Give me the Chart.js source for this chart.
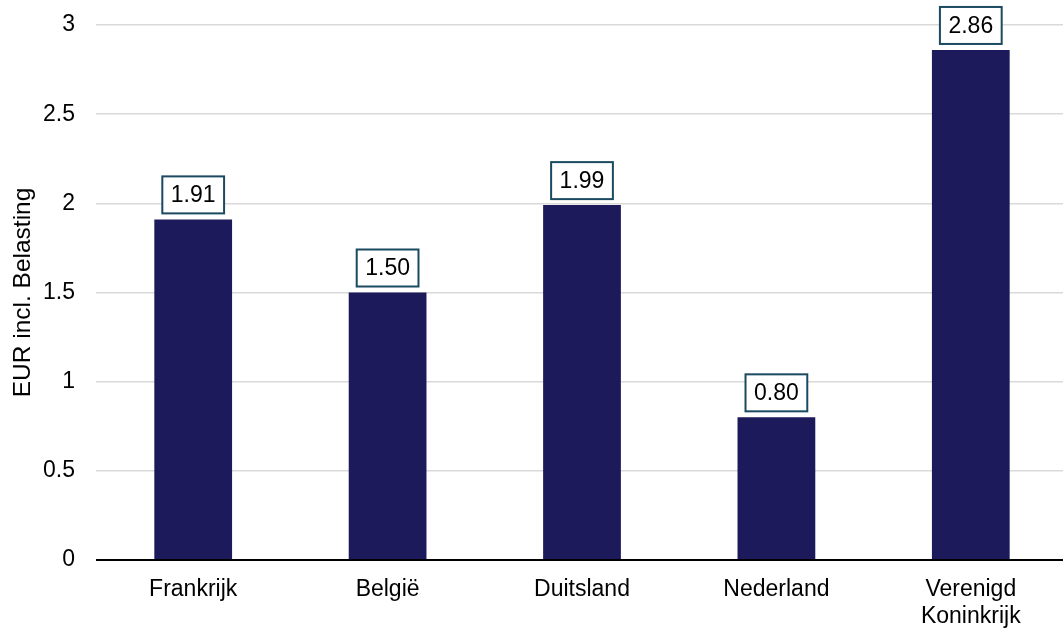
<!DOCTYPE html>
<html>
<head>
<meta charset="utf-8">
<script src="https://cdn.jsdelivr.net/npm/chart.js@4.4.1/dist/chart.umd.min.js"></script>
<style>
html,body{margin:0;padding:0;background:#fff;overflow:hidden;width:1063px;height:630px;}
#wrap{position:absolute;left:0;top:0;width:1068px;height:630px;}
</style>
</head>
<body>
<div id="wrap"><canvas id="c" width="1068" height="630"></canvas></div>
<script>
const categories = ["Frankrijk", "België", "Duitsland", "Nederland", ["Verenigd", "Koninkrijk"]];
const values = [1.91, 1.50, 1.99, 0.80, 2.86];
const yTicks = [0, 0.5, 1, 1.5, 2, 2.5, 3];
const yTitle = "EUR incl. Belasting";

const FONT = "'Liberation Sans', Arial, sans-serif";

const labelBoxPlugin = {
  id: 'labelBoxes',
  afterDatasetsDraw(chart) {
    const ctx = chart.ctx;
    const meta = chart.getDatasetMeta(0);
    ctx.save();
    ctx.font = "23px " + FONT;
    meta.data.forEach((bar, i) => {
      const txt = values[i].toFixed(2);
      const tw = ctx.measureText(txt).width;
      const w = tw + 17, h = 37;
      const x = bar.x - w / 2;
      const y = bar.y - 6 - h;
      ctx.fillStyle = '#ffffff';
      ctx.fillRect(x, y, w, h);
      ctx.lineWidth = 2;
      ctx.strokeStyle = '#1a4a60';
      ctx.strokeRect(x, y, w, h);
      ctx.fillStyle = '#000000';
      ctx.textAlign = 'center';
      ctx.textBaseline = 'middle';
      ctx.fillText(txt, bar.x, y + h / 2 + 1);
    });
    ctx.restore();
  }
};

new Chart(document.getElementById('c'), {
  type: 'bar',
  data: {
    labels: categories,
    datasets: [{
      data: values,
      backgroundColor: '#1c1a5a',
      borderWidth: 0,
      barPercentage: 0.4,
      categoryPercentage: 1.0
    }]
  },
  options: {
    responsive: false,
    animation: false,
    devicePixelRatio: 1,
    layout: { padding: { top: 25, right: 0, left: 0, bottom: 0 } },
    plugins: { legend: { display: false }, tooltip: { enabled: false } },
    scales: {
      x: {
        offset: true,
        grid: { display: false, drawTicks: false },
        border: { display: false },
        ticks: {
          color: '#000',
          font: { family: FONT, size: 23, lineHeight: 1.17 },
          padding: 16,
          maxRotation: 0,
          autoSkip: false
        },
        afterFit(scale) { scale.height = 70; scale.paddingLeft = 0; scale.paddingRight = 0; }
      },
      y: {
        min: 0, max: 3,
        afterBuildTicks(scale) { scale.ticks = yTicks.map(v => ({ value: v })); },
        grid: {
          drawTicks: false,
          color: (c) => (c.tick && c.tick.value === 0) ? '#000000' : '#d9d9d9',
          lineWidth: (c) => (c.tick && c.tick.value === 0) ? 2 : 1.5
        },
        border: { display: false },
        ticks: {
          color: '#000',
          font: { family: FONT, size: 23 },
          padding: 21,
          callback: (v) => String(v)
        },
        title: {
          display: true,
          text: yTitle,
          color: '#000',
          font: { family: FONT, size: 24.5 },
          padding: { top: 9, bottom: 0 }
        },
        afterFit(scale) { scale.width = 96; scale.paddingTop = 0; scale.paddingBottom = 0; }
      }
    }
  },
  plugins: [labelBoxPlugin]
});
</script>
</body>
</html>
